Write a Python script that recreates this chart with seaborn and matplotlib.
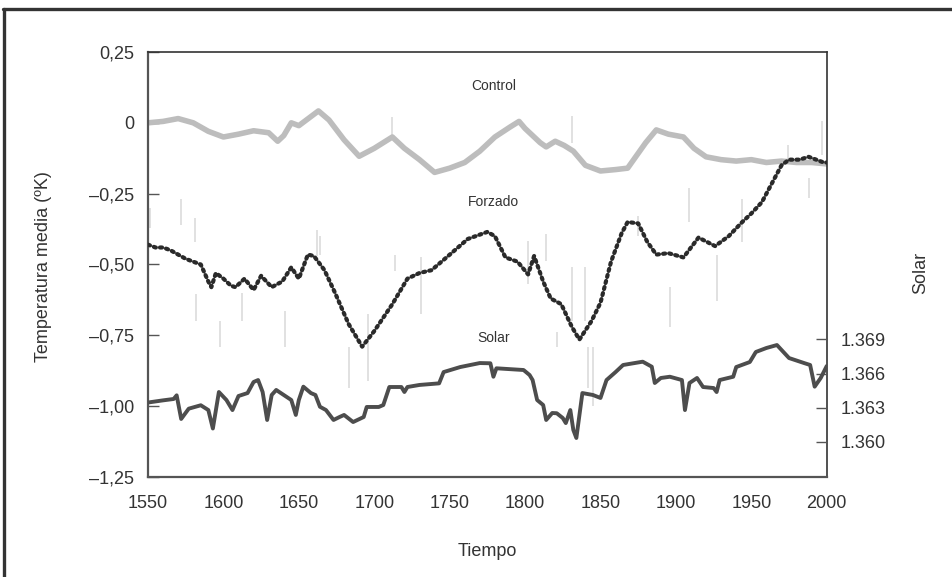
import matplotlib
matplotlib.use("Agg")
import matplotlib.pyplot as plt
from matplotlib.lines import Line2D
from matplotlib.ticker import FuncFormatter, FixedLocator
import seaborn as sns
import pandas as pd

# --- Control run (mean temperature anomaly, K) ---
control_years = [1550, 1560, 1570, 1580, 1590, 1600, 1610, 1620, 1630, 1636,
                 1640, 1645, 1650, 1655, 1663, 1670, 1680, 1690, 1700, 1712,
                 1720, 1730, 1740, 1750, 1760, 1770, 1780, 1790, 1796, 1800,
                 1810, 1814, 1820, 1826, 1832, 1840, 1850, 1860, 1868, 1880,
                 1887, 1895, 1905, 1912, 1920, 1930, 1940, 1950, 1960, 1970,
                 1980, 1990, 2000]
control_vals = [0.0, 0.005, 0.015, 0.0, -0.03, -0.05, -0.04, -0.028, -0.035, -0.065,
                -0.045, 0.0, -0.01, 0.01, 0.042, 0.01, -0.06, -0.118, -0.09, -0.05,
                -0.09, -0.13, -0.175, -0.16, -0.14, -0.10, -0.05, -0.015, 0.005, -0.02,
                -0.07, -0.085, -0.065, -0.08, -0.10, -0.15, -0.17, -0.165, -0.16, -0.07,
                -0.025, -0.04, -0.05, -0.09, -0.12, -0.13, -0.135, -0.13, -0.14, -0.135,
                -0.14, -0.14, -0.145]

# --- Forced run (mean temperature anomaly, K) ---
forced_years = [1550, 1555, 1560, 1565, 1570, 1575, 1580, 1585, 1590, 1592,
                1595, 1600, 1605, 1608, 1614, 1620, 1625, 1632, 1639, 1645,
                1650, 1656, 1660, 1667, 1674, 1683, 1692, 1700, 1712, 1722,
                1730, 1738, 1749, 1762, 1775, 1780, 1787, 1795, 1802, 1806,
                1812, 1817, 1824, 1831, 1836, 1844, 1850, 1857, 1864, 1868,
                1875, 1881, 1887, 1895, 1905, 1915, 1926, 1935, 1944, 1950,
                1957, 1963, 1970, 1975, 1982, 1988, 1993, 1998, 2000]
forced_vals = [-0.43, -0.44, -0.44, -0.45, -0.465, -0.48, -0.49, -0.50, -0.56, -0.58,
               -0.53, -0.55, -0.575, -0.58, -0.55, -0.59, -0.54, -0.58, -0.56, -0.51,
               -0.55, -0.465, -0.47, -0.52, -0.60, -0.71, -0.79, -0.735, -0.64, -0.55,
               -0.53, -0.52, -0.47, -0.41, -0.385, -0.40, -0.475, -0.49, -0.535, -0.47,
               -0.56, -0.62, -0.64, -0.72, -0.765, -0.70, -0.635, -0.49, -0.39, -0.35,
               -0.355, -0.42, -0.465, -0.46, -0.475, -0.405, -0.435, -0.40, -0.35, -0.32,
               -0.28, -0.22, -0.15, -0.13, -0.13, -0.12, -0.13, -0.14, -0.14]

# --- Spread of individual realisations (year, low, high) ---
spread_years = [1551, 1572, 1581, 1582, 1598, 1612, 1641, 1662, 1664, 1683,
                1696, 1714, 1731, 1802, 1814, 1821, 1831, 1840, 1842, 1845,
                1875, 1896, 1909, 1927, 1944, 1974, 1988, 1997, 1712, 1831]
spread_low = [-0.37, -0.36, -0.42, -0.70, -0.79, -0.70, -0.79, -0.47, -0.465, -0.935,
              -0.91, -0.523, -0.676, -0.57, -0.488, -0.79, -0.70, -0.70, -0.935, -1.0,
              -0.40, -0.72, -0.35, -0.63, -0.42, -0.14, -0.265, -0.113, -0.06, -0.07]
spread_high = [-0.30, -0.27, -0.335, -0.605, -0.70, -0.60, -0.665, -0.38, -0.40, -0.79,
               -0.676, -0.465, -0.475, -0.418, -0.394, -0.74, -0.51, -0.51, -0.79, -0.79,
               -0.33, -0.58, -0.23, -0.465, -0.27, -0.08, -0.195, 0.005, 0.02, 0.025]

# --- Solar irradiance (W/m2) ---
solar_years = [1550, 1560, 1567, 1569, 1572, 1577, 1585, 1590, 1593, 1597,
               1602, 1606, 1610, 1616, 1620, 1623, 1626, 1629, 1632, 1635,
               1640, 1645, 1648, 1650, 1653, 1658, 1661, 1664, 1668, 1673,
               1677, 1680, 1686, 1693, 1695, 1703, 1706, 1710, 1718, 1720,
               1722, 1730, 1743, 1746, 1757, 1770, 1777, 1779, 1781, 1799,
               1803, 1805, 1808, 1812, 1814, 1818, 1821, 1825, 1827, 1830,
               1832, 1834, 1838, 1845, 1850, 1854, 1860, 1865, 1878, 1884,
               1886, 1890, 1896, 1904, 1906, 1909, 1914, 1918, 1925, 1927,
               1929, 1938, 1940, 1949, 1953, 1960, 1967, 1975, 1985, 1989,
               1992, 1996, 2000]
solar_vals = [1363.46, 1363.65, 1363.77, 1364.09, 1362.02, 1362.92, 1363.22, 1362.80, 1361.18, 1364.38,
              1363.68, 1362.80, 1364.03, 1364.29, 1365.26, 1365.43, 1364.38, 1361.93, 1364.12, 1364.56,
              1364.12, 1363.68, 1362.37, 1363.68, 1364.85, 1364.29, 1364.12, 1363.09, 1362.80, 1361.93,
              1362.19, 1362.37, 1361.75, 1362.19, 1363.07, 1363.07, 1363.24, 1364.82, 1364.82, 1364.38,
              1364.82, 1365.00, 1365.14, 1366.13, 1366.57, 1366.92, 1366.90, 1365.72, 1366.46, 1366.31,
              1365.87, 1365.43, 1363.68, 1363.24, 1361.93, 1362.54, 1362.52, 1362.10, 1361.66, 1362.80,
              1361.05, 1360.35, 1364.29, 1364.12, 1363.86, 1365.43, 1366.13, 1366.75, 1367.04, 1366.60,
              1365.17, 1365.61, 1365.72, 1365.43, 1362.80, 1365.17, 1365.61, 1364.82, 1364.73, 1364.38,
              1365.43, 1365.72, 1366.57, 1367.01, 1367.89, 1368.24, 1368.50, 1367.36, 1366.92, 1366.75,
              1364.85, 1365.61, 1366.66]

temp_ticks = [0.25, 0.0, -0.25, -0.50, -0.75, -1.00, -1.25]
year_ticks = [1550, 1600, 1650, 1700, 1750, 1800, 1850, 1900, 1950, 2000]
solar_ticks = [1360, 1363, 1366, 1369]

control_df = pd.DataFrame({"year": control_years, "temp": control_vals})
forced_df = pd.DataFrame({"year": forced_years, "temp": forced_vals})
solar_df = pd.DataFrame({"year": solar_years, "solar": solar_vals})

sns.set_theme(style="white")
plt.rcParams["font.family"] = ["Liberation Sans", "DejaVu Sans"]

text_col = "#333333"
fig = plt.figure(figsize=(9.53, 5.77), dpi=100)
ax = fig.add_axes([0.1553, 0.1733, 0.7122, 0.7366])

# ensemble spread as faint vertical streaks
ax.vlines(spread_years, spread_low, spread_high, color="#dedede", lw=1.3, zorder=1)

sns.lineplot(data=control_df, x="year", y="temp", ax=ax, color="#bdbdbd",
             lw=4.0, estimator=None, zorder=2)
sns.lineplot(data=forced_df, x="year", y="temp", ax=ax, color="#a0a0a0",
             lw=1.0, estimator=None, zorder=3)
sns.lineplot(data=forced_df, x="year", y="temp", ax=ax, color="#2a2a2a",
             lw=3.0, estimator=None, zorder=4)
ax.lines[-1].set_linestyle((0, (0.5, 1.0)))
ax.lines[-1].set_dash_capstyle("round")

ax.set_xlim(1550, 2000)
ax.set_ylim(-1.25, 0.25)
ax.xaxis.set_major_locator(FixedLocator(year_ticks))
ax.yaxis.set_major_locator(FixedLocator(temp_ticks))


def temp_fmt(v, pos):
    if abs(v) < 1e-9:
        return "0"
    return f"{v:.2f}".replace(".", ",").replace("-", "\u2013")


ax.yaxis.set_major_formatter(FuncFormatter(temp_fmt))
ax.tick_params(axis="both", direction="in", length=8, width=1.0,
               colors="#555555", labelcolor=text_col, labelsize=13)
ax.tick_params(axis="x", pad=13)
ax.tick_params(axis="y", pad=10, right=False)
ax.set_xlabel("Tiempo", fontsize=13, color=text_col)
ax.set_ylabel("Temperatura media (ºK)", fontsize=13, color=text_col)
ax.xaxis.set_label_coords(0.4995, -0.155)
ax.yaxis.set_label_coords(-0.1415, 0.494)

for side in ["left", "bottom"]:
    ax.spines[side].set_color("#555555")
    ax.spines[side].set_linewidth(1.6)
for side in ["top", "right"]:
    ax.spines[side].set_color("#333333")
    ax.spines[side].set_linewidth(1.2)

# twin axis for solar irradiance
ax2 = ax.twinx()
sns.lineplot(data=solar_df, x="year", y="solar", ax=ax2, color="#4d4d4d",
             lw=2.8, estimator=None)
ax2.set_ylim(1356.93, 1394.19)
ax2.yaxis.set_major_locator(FixedLocator(solar_ticks))
ax2.yaxis.set_major_formatter(FuncFormatter(
    lambda v, pos: f"{v / 1000:.3f}"))
ax2.tick_params(axis="y", direction="in", length=8, width=1.0,
                colors="#555555", labelcolor=text_col, labelsize=13, pad=10)
ax2.set_ylabel("Solar", fontsize=13, color=text_col)
ax2.yaxis.set_label_coords(1.1257, 0.48)
ax2.set_xlabel("")
for sp in ax2.spines.values():
    sp.set_visible(False)
ax2.grid(False)
ax.grid(False)

# series labels
ax.text(1779, 0.13, "Control", fontsize=10, color=text_col, ha="center", va="center")
ax.text(1779, -0.28, "Forzado", fontsize=10, color=text_col, ha="center", va="center")
ax.text(1779, -0.76, "Solar", fontsize=10, color=text_col, ha="center", va="center")

# partial outer frame
fig.add_artist(Line2D([0.003, 1.0], [0.985, 0.985], transform=fig.transFigure,
                      color="#333333", lw=2.4))
fig.add_artist(Line2D([0.0047, 0.0047], [0.0, 0.985], transform=fig.transFigure,
                      color="#333333", lw=2.4))

fig.savefig("out.png", dpi=100)
